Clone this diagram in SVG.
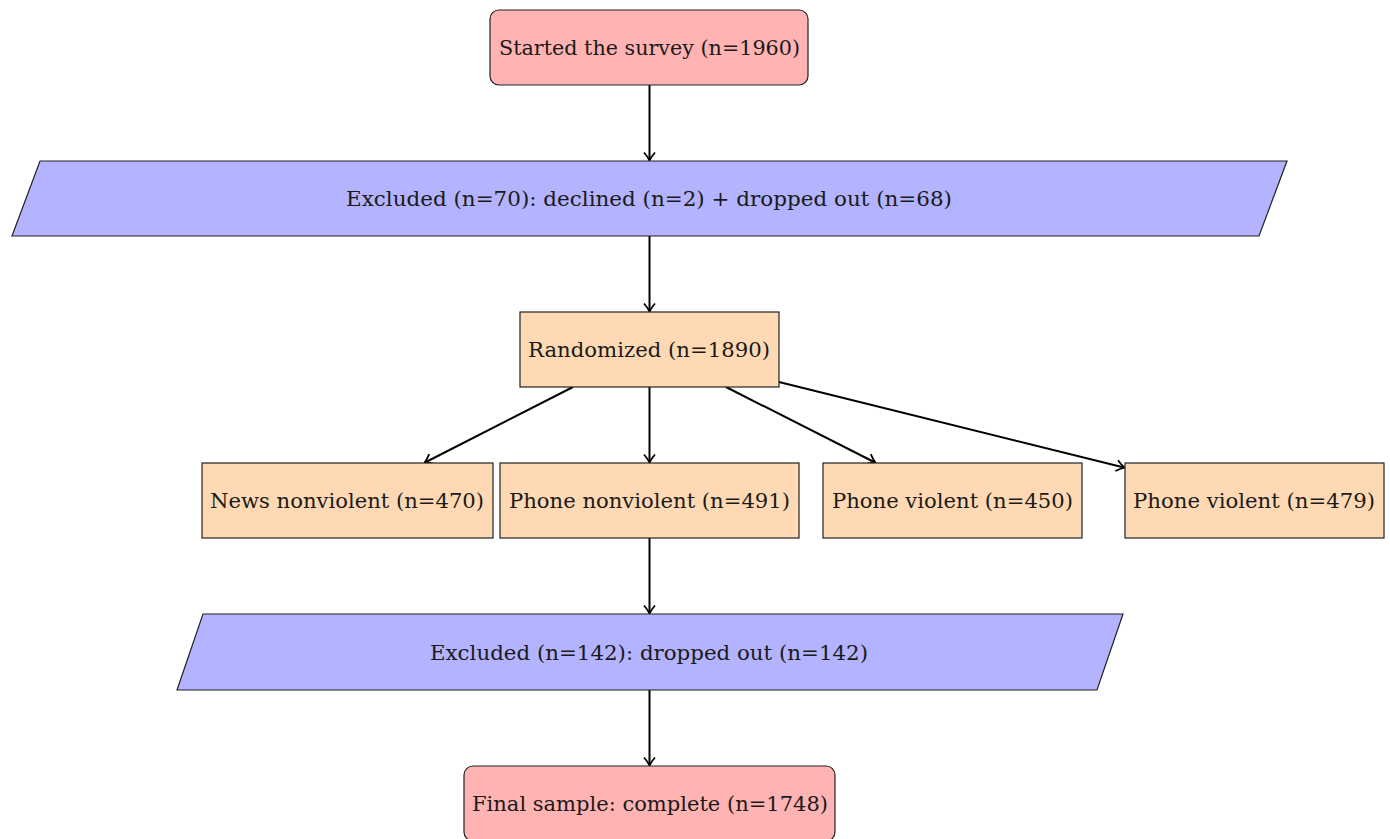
<svg xmlns="http://www.w3.org/2000/svg" width="1390" height="839" viewBox="0 0 1390 839">
<style>
text{font-family:"DejaVu Serif","Liberation Serif",serif;font-size:21px;fill:#1a1a1a;text-anchor:middle}
.red{fill:#ffb3b3;stroke:#222;stroke-width:1.2}
.blue{fill:#b3b3ff;stroke:#222;stroke-width:1.2}
.org{fill:#ffd9b3;stroke:#222;stroke-width:1.2}
.edge{stroke:#000;stroke-width:2;fill:none;marker-end:url(#ah)}
</style>
<defs>
<marker id="ah" markerWidth="14" markerHeight="14" refX="10" refY="7" orient="auto" markerUnits="userSpaceOnUse">
<path d="M2.5,1.5 Q6.5,5 10.5,7 Q6.5,9 2.5,12.5" fill="none" stroke="#000" stroke-width="1.8" stroke-linejoin="round"/>
</marker>
</defs>
<rect width="1390" height="839" fill="#fff"/>
<g id="connectors">
<line class="edge" x1="649.5" y1="85" x2="649.5" y2="160"/>
<line class="edge" x1="649.5" y1="236" x2="649.5" y2="311"/>
<line class="edge" x1="573" y1="387" x2="425" y2="462.5"/>
<line class="edge" x1="649.5" y1="387" x2="649.5" y2="462"/>
<line class="edge" x1="726" y1="387" x2="875" y2="462.5"/>
<line class="edge" x1="779" y1="382" x2="1124" y2="467.5"/>
<line class="edge" x1="649.5" y1="538" x2="649.5" y2="613"/>
<line class="edge" x1="649.5" y1="690" x2="649.5" y2="765"/>
</g>
<g id="start">
<rect class="red" x="490" y="10" width="318" height="75" rx="9"/>
<text x="649.5" y="55" textLength="301" lengthAdjust="spacingAndGlyphs">Started the survey (n=1960)</text>
</g>
<g id="excluded1">
<polygon class="blue" points="40,161 1287,161 1259,236 12,236"/>
<text x="649" y="205.5" textLength="606" lengthAdjust="spacingAndGlyphs">Excluded (n=70): declined (n=2) + dropped out (n=68)</text>
</g>
<g id="randomized">
<rect class="org" x="520" y="312" width="259" height="75"/>
<text x="649" y="357" textLength="242" lengthAdjust="spacingAndGlyphs">Randomized (n=1890)</text>
</g>
<g id="news-nonviolent">
<rect class="org" x="202" y="463" width="291" height="75"/>
<text x="347" y="508" textLength="274" lengthAdjust="spacingAndGlyphs">News nonviolent (n=470)</text>
</g>
<g id="phone-nonviolent">
<rect class="org" x="500" y="463" width="299" height="75"/>
<text x="649.5" y="508" textLength="281" lengthAdjust="spacingAndGlyphs">Phone nonviolent (n=491)</text>
</g>
<g id="phone-violent-450">
<rect class="org" x="823" y="463" width="259" height="75"/>
<text x="952.5" y="508" textLength="241" lengthAdjust="spacingAndGlyphs">Phone violent (n=450)</text>
</g>
<g id="phone-violent-479">
<rect class="org" x="1125" y="463" width="259" height="75"/>
<text x="1254" y="508" textLength="242" lengthAdjust="spacingAndGlyphs">Phone violent (n=479)</text>
</g>
<g id="excluded2">
<polygon class="blue" points="203,614 1123,614 1097,690 177,690"/>
<text x="649" y="659.5" textLength="438" lengthAdjust="spacingAndGlyphs">Excluded (n=142): dropped out (n=142)</text>
</g>
<g id="final">
<rect class="red" x="464" y="766" width="371" height="75" rx="9"/>
<text x="650" y="811" textLength="356" lengthAdjust="spacingAndGlyphs">Final sample: complete (n=1748)</text>
</g>
</svg>
